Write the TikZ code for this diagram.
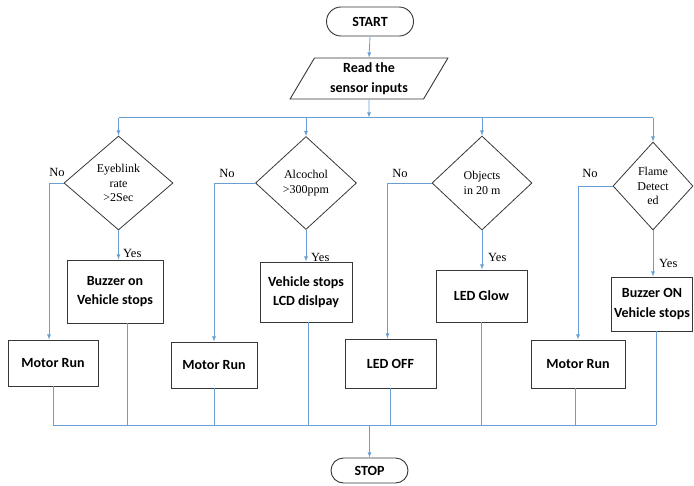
\documentclass[tikz,border=0pt]{standalone}
\usepackage{fontspec}
\setmainfont{Liberation Serif}
\newfontfamily\calibfont{Carlito}
\usepackage{xcolor}
\usetikzlibrary{shapes.geometric}
\usetikzlibrary{shapes.misc}

\definecolor{flowblue}{RGB}{105,158,210}
\definecolor{boxgray}{RGB}{55,55,55}

\begin{document}
\begin{tikzpicture}[x=1pt,y=-1pt,every path/.style={>=latex},
	box/.style={draw=boxgray,line width=0.9pt,fill=white,align=center,inner sep=1pt,
		font=\calibfont\bfseries\fontsize{14}{19.5}\selectfont},
	term/.style={rounded rectangle,draw=boxgray,line width=0.9pt,inner sep=1pt,
		font=\calibfont\bfseries\fontsize{14}{16}\selectfont},
	io/.style={trapezium,trapezium left angle=62,trapezium right angle=118,
		trapezium stretches=true,draw=boxgray,line width=0.9pt,align=center,inner sep=1pt,
		font=\calibfont\bfseries\fontsize{14}{19.5}\selectfont},
	cond/.style={diamond,draw=boxgray,line width=0.8pt,align=center,inner sep=0pt,
		font=\fontsize{12}{14.5}\selectfont},
	flow/.style={->,draw=flowblue,line width=0.8pt},
	link/.style={draw=flowblue,line width=0.8pt},
	lbl/.style={inner sep=0pt,font=\fontsize{12.5}{14}\selectfont}]
		\useasboundingbox (0,0) rectangle (694,485);
		
		% start and input
		\node[term,minimum width=89pt,minimum height=29pt] (start) at (370,21.5) {START};
		\node[io,minimum width=158pt,minimum height=41pt] (read) at (369,78.5) {Read the\\sensor inputs};
		\draw[flow] (start.south) -- (read.north);
		
		% draw decisions
		\node[cond,minimum width=109pt,minimum height=94pt] (d1) at (118.5,183) {Eyeblink\\rate\\>2Sec};
		\node[cond,minimum width=101pt,minimum height=93pt] (d2) at (306,183) {Alcochol\\>300ppm};
		\node[cond,minimum width=100pt,minimum height=94pt] (d3) at (482,183) {Objects\\in 20 m};
		\node[cond,minimum width=80pt,minimum height=88pt] (d4) at (653,186) {Flame\\Detect\\ed};
		
		% branch line from input to decisions
		\coordinate (top) at (369,117.5);
		\draw[flow] (read.south) -- (top);
		\draw[link] (d1.north |- top) -- (d4.north |- top);
		\foreach \d in {d1,d2,d3,d4}
		{
			\draw[flow] (\d.north |- top) -- (\d.north);
		}
		
		% draw yes boxes
		\node[box,minimum width=96pt,minimum height=63pt] (b1) at (115,291.5) {Buzzer on\\Vehicle stops};
		\node[box,minimum width=92pt,minimum height=60pt] (b2) at (306,292) {Vehicle stops\\LCD dislpay};
		\node[box,minimum width=91pt,minimum height=52pt] (b3) at (481.5,296) {LED Glow};
		\node[box,minimum width=81pt,minimum height=54pt] (b4) at (652,304) {Buzzer ON\\Vehicle stops};
		
		% draw no boxes
		\node[box,minimum width=90pt,minimum height=46pt] (m1) at (53,363) {Motor Run};
		\node[box,minimum width=86pt,minimum height=46pt] (m2) at (214,365) {Motor Run};
		\node[box,minimum width=91pt,minimum height=49pt] (m3) at (390.5,363.5) {LED OFF};
		\node[box,minimum width=94pt,minimum height=48pt] (m4) at (578,364) {Motor Run};
		
		% yes arrows
		\draw[flow] (d1.south) -- (d1.south |- b1.north);
		\draw[flow] (d2.south) -- (d2.south |- b2.north);
		\draw[flow] (d3.south) -- (d3.south |- b3.north);
		\draw[flow] (d4.south) -- (d4.south |- b4.north);
		\node[lbl,anchor=west] (y1) at (123,253) {Yes};
		\node[lbl,anchor=west] (y2) at (311,257) {Yes};
		\node[lbl,anchor=west] (y3) at (488,257) {Yes};
		\node[lbl,anchor=west] (y4) at (659,263) {Yes};
		
		% no arrows
		\draw[flow] (d1.west) -| ([xshift=-4pt]m1.north);
		\draw[flow] (d2.west) -| (m2.north);
		\draw[flow] (d3.west) -| ([xshift=-3pt]m3.north);
		\draw[flow] (d4.west) -| (m4.north);
		\node[lbl] (n1) at (57,172) {No};
		\node[lbl] (n2) at (227,173) {No};
		\node[lbl] (n3) at (400,173) {No};
		\node[lbl] (n4) at (590,173) {No};
		
		% collect lines to stop
		\node[term,minimum width=79pt,minimum height=25pt] (stop) at (369.5,470.5) {STOP};
		\coordinate (bot) at (369.5,425);
		\draw[link] (m1.south) -- (m1.south |- bot);
		\draw[link] ([xshift=12pt]b1.south) -- ([xshift=12pt]b1.south |- bot);
		\draw[link] (m2.south) -- (m2.south |- bot);
		\draw[link] ([xshift=2pt]b2.south) -- ([xshift=2pt]b2.south |- bot);
		\draw[link] (m3.south) -- (m3.south |- bot);
		\draw[link] (b3.south) -- (b3.south |- bot);
		\draw[link] ([xshift=-3pt]m4.south) -- ([xshift=-3pt]m4.south |- bot);
		\draw[link] ([xshift=4pt]b4.south) -- ([xshift=4pt]b4.south |- bot);
		\draw[link] (m1.south |- bot) -- ([xshift=4pt]b4.south |- bot);
		\draw[flow] (bot) -- (stop.north);
\end{tikzpicture}
\end{document}
